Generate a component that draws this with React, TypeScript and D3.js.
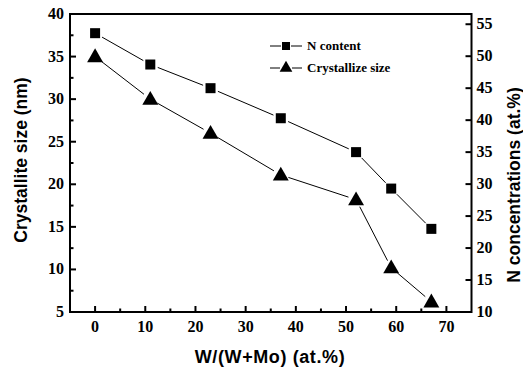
import * as d3 from "d3";

const ratios = [0, 11, 23, 37, 52, 59, 67];
const nContent = [53.6, 48.7, 45.0, 40.3, 35.0, 29.3, 23.0];
const crystalSize = [35.0, 30.0, 26.0, 21.1, 18.2, 10.2, 6.2];

const xTicks = [0, 10, 20, 30, 40, 50, 60, 70];
const leftTicks = [5, 10, 15, 20, 25, 30, 35, 40];
const rightTicks = [10, 15, 20, 25, 30, 35, 40, 45, 50, 55];

const W = 523;
const H = 371;
const left = 70;
const right = 471.5;
const top = 14;
const bottom = 312;

const serif = "'Liberation Serif', 'Times New Roman', serif";
const sans = "'Liberation Sans', Arial, sans-serif";

// shorten a segment so it stops short of the markers, like the original plot
function gapSegment(x1: number, y1: number, x2: number, y2: number, g1: number, g2: number) {
  const dx = x2 - x1;
  const dy = y2 - y1;
  const len = Math.hypot(dx, dy);
  const ux = dx / len;
  const uy = dy / len;
  return { x1: x1 + ux * g1, y1: y1 + uy * g1, x2: x2 - ux * g2, y2: y2 - uy * g2 };
}

const Square = ({ x, y }: { x: number; y: number }) => (
  <rect x={x - 5} y={y - 5} width={10} height={10} fill="#000" />
);

const Triangle = ({ x, y }: { x: number; y: number }) => {
  const s = d3.symbol(d3.symbolTriangle, 110)();
  return <path d={s!} transform={`translate(${x},${y + 1})`} fill="#000" />;
};

export default function App() {
  const x = d3.scaleLinear().domain([-5, 75]).range([left, right]);
  const yL = d3.scaleLinear().domain([5, 40]).range([bottom, top]);
  const yR = d3.scaleLinear().domain([10, 56.6]).range([bottom, top]);

  const xMinor = d3.range(-5, 75, 5).filter((v) => v % 10 !== 0 && v > -5);
  const yMinor = d3.range(7.5, 40, 5);

  const sqPts = ratios.map((r, i) => [x(r), yR(nContent[i])]);
  const triPts = ratios.map((r, i) => [x(r), yL(crystalSize[i])]);

  return (
    <svg
      width={W}
      height={H}
      style={{ position: "absolute", left: 0, top: 0, background: "#fff" }}
    >
      <rect width={W} height={H} fill="#fff" />

      {/* data lines */}
      {sqPts.slice(1).map((p, i) => {
        const s = gapSegment(sqPts[i][0], sqPts[i][1], p[0], p[1], 8, 8);
        return <line key={"sl" + i} {...s} stroke="#000" strokeWidth={1} />;
      })}
      {triPts.slice(1).map((p, i) => {
        const s = gapSegment(triPts[i][0], triPts[i][1], p[0], p[1], 8, 8);
        return <line key={"tl" + i} {...s} stroke="#000" strokeWidth={1} />;
      })}
      {sqPts.map((p, i) => (
        <Square key={"s" + i} x={p[0]} y={p[1]} />
      ))}
      {triPts.map((p, i) => (
        <Triangle key={"t" + i} x={p[0]} y={p[1]} />
      ))}

      {/* frame */}
      <rect
        x={left}
        y={top}
        width={right - left}
        height={bottom - top}
        fill="none"
        stroke="#000"
        strokeWidth={2}
      />

      {/* bottom axis */}
      {xTicks.map((t) => (
        <g key={"x" + t}>
          <line x1={x(t)} x2={x(t)} y1={bottom} y2={bottom - 6} stroke="#000" strokeWidth={2} />
          <text
            x={x(t)}
            y={bottom + 20}
            textAnchor="middle"
            fontFamily={serif}
            fontWeight="bold"
            fontSize={16}
          >
            {t}
          </text>
        </g>
      ))}
      {xMinor.map((t) => (
        <line key={"xm" + t} x1={x(t)} x2={x(t)} y1={bottom} y2={bottom - 3.5} stroke="#000" strokeWidth={2} />
      ))}

      {/* left axis */}
      {leftTicks.map((t) => (
        <g key={"l" + t}>
          <line x1={left} x2={left + 6} y1={yL(t)} y2={yL(t)} stroke="#000" strokeWidth={2} />
          <text
            x={left - 6}
            y={yL(t) + 5}
            textAnchor="end"
            fontFamily={serif}
            fontWeight="bold"
            fontSize={16}
          >
            {t}
          </text>
        </g>
      ))}
      {yMinor.map((t) => (
        <line key={"lm" + t} x1={left} x2={left + 3.5} y1={yL(t)} y2={yL(t)} stroke="#000" strokeWidth={2} />
      ))}

      {/* right axis */}
      {rightTicks.map((t) => (
        <g key={"r" + t}>
          <line x1={right} x2={right - 6} y1={yR(t)} y2={yR(t)} stroke="#000" strokeWidth={2} />
          <text
            x={right + 5}
            y={yR(t) + 5}
            textAnchor="start"
            fontFamily={serif}
            fontWeight="bold"
            fontSize={16}
          >
            {t}
          </text>
        </g>
      ))}

      {/* axis titles */}
      <text
        x={270}
        y={363}
        textAnchor="middle"
        fontFamily={sans}
        fontWeight="bold"
        fontSize={18}
        letterSpacing={0.6}
      >
        W/(W+Mo) (at.%)
      </text>
      <text
        transform="translate(27,160) rotate(-90)"
        textAnchor="middle"
        fontFamily={sans}
        fontWeight="bold"
        fontSize={17.5}
      >
        Crystallite size (nm)
      </text>
      <text
        transform="translate(520,185) rotate(-90)"
        textAnchor="middle"
        fontFamily={sans}
        fontWeight="bold"
        fontSize={17.5}
      >
        N concentrations (at.%)
      </text>

      {/* legend */}
      <g fontFamily={serif} fontWeight="bold" fontSize={13}>
        <line x1={270} x2={281} y1={46} y2={46} stroke="#000" />
        <line x1={291} x2={302} y1={46} y2={46} stroke="#000" />
        <rect x={282} y={42} width={8} height={8} fill="#000" />
        <text x={307} y={50}>N content</text>
        <line x1={270} x2={280} y1={68} y2={68} stroke="#000" />
        <line x1={292} x2={302} y1={68} y2={68} stroke="#000" />
        <path d={d3.symbol(d3.symbolTriangle, 70)()!} transform="translate(286,68)" fill="#000" />
        <text x={307} y={72}>Crystallize size</text>
      </g>
    </svg>
  );
}
